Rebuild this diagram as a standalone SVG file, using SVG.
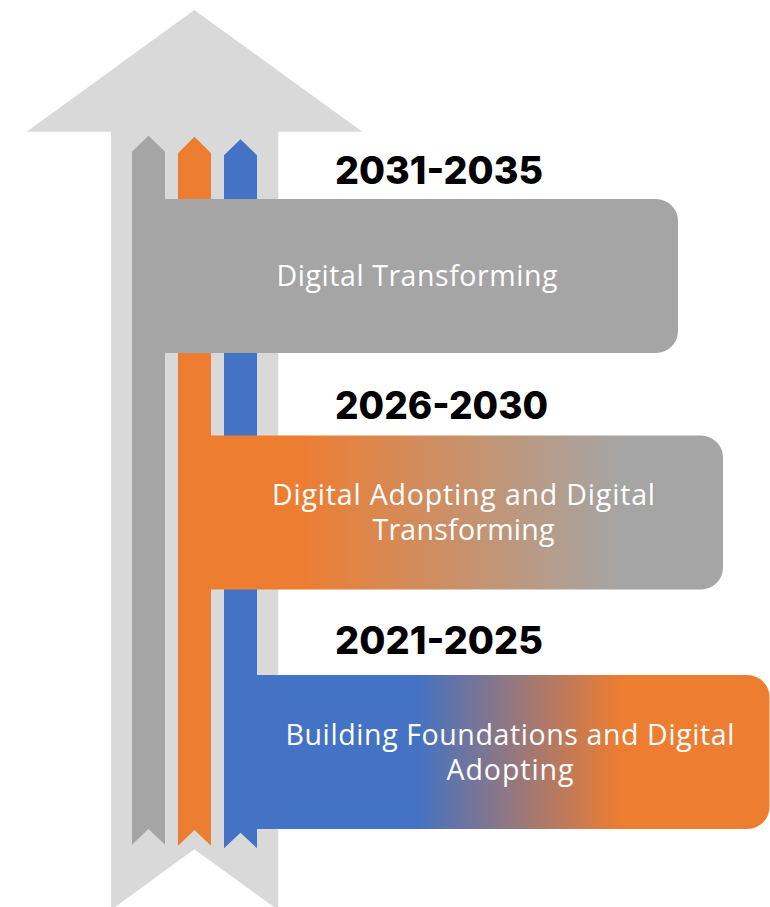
<svg xmlns="http://www.w3.org/2000/svg" width="770" height="907" viewBox="0 0 770 907">
  <defs>
    <linearGradient id="gOrangeGray" x1="0" y1="0" x2="1" y2="0">
      <stop offset="0.17" stop-color="#ED7D31"/>
      <stop offset="0.80" stop-color="#A5A5A5"/>
    </linearGradient>
    <linearGradient id="gBlueOrange" x1="0" y1="0" x2="1" y2="0">
      <stop offset="0.31" stop-color="#4472C4"/>
      <stop offset="0.71" stop-color="#ED7D31"/>
    </linearGradient>
  </defs>
  <style>
    .year { font-family: Inter, "Liberation Sans", sans-serif; font-weight: 800; font-size: 38px; fill: #000000; }
    .label { font-family: "Open Sans", "Noto Sans", "Liberation Sans", sans-serif; font-weight: 400; font-size: 28.5px; fill: #FFFFFF; text-anchor: middle; }
  </style>
  <rect width="770" height="907" fill="#FFFFFF"/>
  <g id="backdrop">
    <polygon id="big-arrow" fill="#D9D9D9" points="194.3,10 362.3,131.7 278.3,131.7 278.3,910 194.3,849.3 111,910 111,131.7 26.7,131.7"/>
    <polygon id="strip-gray" fill="#A5A5A5" points="132,151.7 148.5,135.7 165,151.7 165,844.7 148.5,829 132,844.7"/>
    <polygon id="strip-orange" fill="#ED7D31" points="178,153.3 194.5,136.7 211,153.3 211,845.7 194.5,830 178,845.7"/>
    <polygon id="strip-blue" fill="#4472C4" points="224,155.3 240.5,139.3 257,155.3 257,848.3 240.5,832.7 224,848.3"/>
  </g>
  <g id="connectors"></g>
  <g id="stage-2031-2035">
    <path fill="#A5A5A5" d="M165,199 H656 A22,22 0 0 1 678,221 V331 A22,22 0 0 1 656,353 H165 Z"/>
    <text class="year" x="335" y="183.5" textLength="208" lengthAdjust="spacingAndGlyphs">2031-2035</text>
    <text class="label" x="417" y="286" textLength="281">Digital Transforming</text>
  </g>
  <g id="stage-2026-2030">
    <path fill="url(#gOrangeGray)" d="M211,435.5 H701 A22,22 0 0 1 723,457.5 V567.5 A22,22 0 0 1 701,589.5 H211 Z"/>
    <text class="year" x="335" y="419" textLength="213" lengthAdjust="spacingAndGlyphs">2026-2030</text>
    <text class="label" x="463.5" y="505" textLength="383">Digital Adopting and Digital</text>
    <text class="label" x="463.5" y="539.5" textLength="182">Transforming</text>
  </g>
  <g id="stage-2021-2025">
    <path fill="url(#gBlueOrange)" d="M257,675 H747.5 A22,22 0 0 1 769.5,697 V807 A22,22 0 0 1 747.5,829 H257 Z"/>
    <text class="year" x="335" y="654" textLength="208" lengthAdjust="spacingAndGlyphs">2021-2025</text>
    <text class="label" x="510" y="745" textLength="449">Building Foundations and Digital</text>
    <text class="label" x="510" y="779.5" textLength="127">Adopting</text>
  </g>
</svg>
